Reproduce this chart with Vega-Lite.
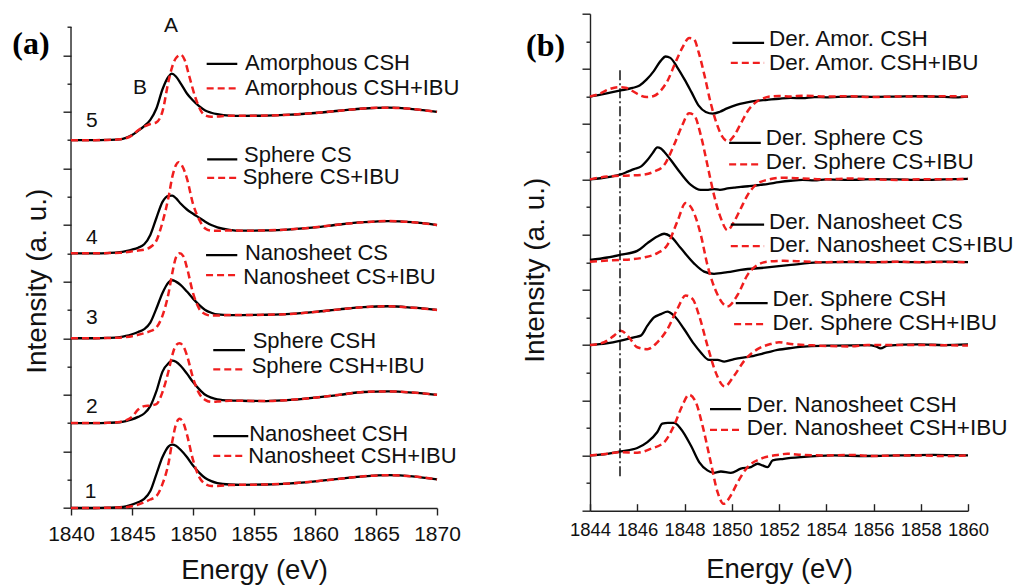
{
  "$schema": "https://vega.github.io/schema/vega-lite/v6.json",
  "background": "white",
  "padding": {"left": 12, "top": 12.7, "right": 0, "bottom": 0},
  "spacing": 60,
  "config": {
    "view": {"stroke": null},
    "font": "Liberation Sans",
    "axis": {"grid": false, "domainColor": "#222", "tickColor": "#222", "domainWidth": 1.4, "tickWidth": 1.4, "labelColor": "#111", "titleColor": "#111", "titleFontWeight": "normal", "labelFont": "Liberation Sans", "titleFont": "Liberation Sans"},
    "text": {"font": "Liberation Sans", "color": "#111"}
  },
  "datasets": {
    "specA": [
      {"s":1,"k":"b","e":1840,"y":0},{"s":1,"k":"b","e":1842,"y":0},{"s":1,"k":"b","e":1843,"y":0.01},{"s":1,"k":"b","e":1844,"y":0.03},{"s":1,"k":"b","e":1844.5,"y":0.06},{"s":1,"k":"b","e":1845,"y":0.12},{"s":1,"k":"b","e":1845.5,"y":0.2},{"s":1,"k":"b","e":1846,"y":0.32},{"s":1,"k":"b","e":1846.5,"y":0.6},{"s":1,"k":"b","e":1847,"y":1.2},{"s":1,"k":"b","e":1847.5,"y":1.8},{"s":1,"k":"b","e":1848,"y":2.18},{"s":1,"k":"b","e":1848.3,"y":2.24},{"s":1,"k":"b","e":1848.6,"y":2.2},{"s":1,"k":"b","e":1849,"y":2.05},{"s":1,"k":"b","e":1849.5,"y":1.8},{"s":1,"k":"b","e":1850,"y":1.5},{"s":1,"k":"b","e":1850.5,"y":1.25},{"s":1,"k":"b","e":1851,"y":1.06},{"s":1,"k":"b","e":1851.5,"y":0.95},{"s":1,"k":"b","e":1852,"y":0.88},{"s":1,"k":"b","e":1853,"y":0.83},{"s":1,"k":"b","e":1854,"y":0.82},{"s":1,"k":"b","e":1856,"y":0.83},{"s":1,"k":"b","e":1858,"y":0.87},{"s":1,"k":"b","e":1860,"y":0.94},{"s":1,"k":"b","e":1862,"y":1.03},{"s":1,"k":"b","e":1864,"y":1.12},{"s":1,"k":"b","e":1866,"y":1.16},{"s":1,"k":"b","e":1868,"y":1.12},{"s":1,"k":"b","e":1870,"y":1.01},
      {"s":1,"k":"r","e":1840,"y":0},{"s":1,"k":"r","e":1842,"y":0},{"s":1,"k":"r","e":1843,"y":0.01},{"s":1,"k":"r","e":1844,"y":0.02},{"s":1,"k":"r","e":1844.5,"y":0.03},{"s":1,"k":"r","e":1845,"y":0.06},{"s":1,"k":"r","e":1845.5,"y":0.12},{"s":1,"k":"r","e":1846,"y":0.2},{"s":1,"k":"r","e":1846.5,"y":0.3},{"s":1,"k":"r","e":1847,"y":0.42},{"s":1,"k":"r","e":1847.5,"y":0.85},{"s":1,"k":"r","e":1848,"y":1.6},{"s":1,"k":"r","e":1848.3,"y":2.35},{"s":1,"k":"r","e":1848.6,"y":2.95},{"s":1,"k":"r","e":1848.9,"y":3.15},{"s":1,"k":"r","e":1849.2,"y":3.02},{"s":1,"k":"r","e":1849.5,"y":2.6},{"s":1,"k":"r","e":1850,"y":1.7},{"s":1,"k":"r","e":1850.5,"y":1.1},{"s":1,"k":"r","e":1851,"y":0.85},{"s":1,"k":"r","e":1851.5,"y":0.78},{"s":1,"k":"r","e":1852,"y":0.78},{"s":1,"k":"r","e":1853,"y":0.81},{"s":1,"k":"r","e":1854,"y":0.82},{"s":1,"k":"r","e":1856,"y":0.83},{"s":1,"k":"r","e":1858,"y":0.87},{"s":1,"k":"r","e":1860,"y":0.94},{"s":1,"k":"r","e":1862,"y":1.03},{"s":1,"k":"r","e":1864,"y":1.12},{"s":1,"k":"r","e":1866,"y":1.16},{"s":1,"k":"r","e":1868,"y":1.12},{"s":1,"k":"r","e":1870,"y":1.01},
      {"s":2,"k":"b","e":1840,"y":3},{"s":2,"k":"b","e":1842,"y":3},{"s":2,"k":"b","e":1843,"y":3.01},{"s":2,"k":"b","e":1844,"y":3.03},{"s":2,"k":"b","e":1844.5,"y":3.07},{"s":2,"k":"b","e":1845,"y":3.13},{"s":2,"k":"b","e":1845.5,"y":3.22},{"s":2,"k":"b","e":1846,"y":3.34},{"s":2,"k":"b","e":1846.5,"y":3.6},{"s":2,"k":"b","e":1847,"y":4.13},{"s":2,"k":"b","e":1847.5,"y":4.82},{"s":2,"k":"b","e":1848,"y":5.12},{"s":2,"k":"b","e":1848.3,"y":5.21},{"s":2,"k":"b","e":1848.6,"y":5.17},{"s":2,"k":"b","e":1849,"y":5.02},{"s":2,"k":"b","e":1849.5,"y":4.75},{"s":2,"k":"b","e":1850,"y":4.45},{"s":2,"k":"b","e":1850.5,"y":4.2},{"s":2,"k":"b","e":1851,"y":4.0},{"s":2,"k":"b","e":1851.5,"y":3.9},{"s":2,"k":"b","e":1852,"y":3.84},{"s":2,"k":"b","e":1853,"y":3.8},{"s":2,"k":"b","e":1854,"y":3.79},{"s":2,"k":"b","e":1856,"y":3.78},{"s":2,"k":"b","e":1858,"y":3.82},{"s":2,"k":"b","e":1860,"y":3.9},{"s":2,"k":"b","e":1862,"y":4.0},{"s":2,"k":"b","e":1864,"y":4.1},{"s":2,"k":"b","e":1866,"y":4.12},{"s":2,"k":"b","e":1868,"y":4.08},{"s":2,"k":"b","e":1870,"y":4.0},
      {"s":2,"k":"r","e":1840,"y":3},{"s":2,"k":"r","e":1842,"y":3},{"s":2,"k":"r","e":1843,"y":3.01},{"s":2,"k":"r","e":1844,"y":3.04},{"s":2,"k":"r","e":1844.5,"y":3.1},{"s":2,"k":"r","e":1845,"y":3.22},{"s":2,"k":"r","e":1845.5,"y":3.48},{"s":2,"k":"r","e":1846,"y":3.6},{"s":2,"k":"r","e":1846.5,"y":3.62},{"s":2,"k":"r","e":1847,"y":3.67},{"s":2,"k":"r","e":1847.5,"y":4.1},{"s":2,"k":"r","e":1848,"y":4.85},{"s":2,"k":"r","e":1848.3,"y":5.4},{"s":2,"k":"r","e":1848.6,"y":5.75},{"s":2,"k":"r","e":1848.9,"y":5.82},{"s":2,"k":"r","e":1849.2,"y":5.72},{"s":2,"k":"r","e":1849.5,"y":5.4},{"s":2,"k":"r","e":1850,"y":4.6},{"s":2,"k":"r","e":1850.5,"y":4.05},{"s":2,"k":"r","e":1851,"y":3.82},{"s":2,"k":"r","e":1851.5,"y":3.75},{"s":2,"k":"r","e":1852,"y":3.76},{"s":2,"k":"r","e":1853,"y":3.79},{"s":2,"k":"r","e":1854,"y":3.79},{"s":2,"k":"r","e":1856,"y":3.78},{"s":2,"k":"r","e":1858,"y":3.82},{"s":2,"k":"r","e":1860,"y":3.9},{"s":2,"k":"r","e":1862,"y":4.0},{"s":2,"k":"r","e":1864,"y":4.1},{"s":2,"k":"r","e":1866,"y":4.12},{"s":2,"k":"r","e":1868,"y":4.08},{"s":2,"k":"r","e":1870,"y":4.0},
      {"s":3,"k":"b","e":1840,"y":6},{"s":3,"k":"b","e":1842,"y":6},{"s":3,"k":"b","e":1843,"y":6.01},{"s":3,"k":"b","e":1844,"y":6.04},{"s":3,"k":"b","e":1844.5,"y":6.08},{"s":3,"k":"b","e":1845,"y":6.14},{"s":3,"k":"b","e":1845.5,"y":6.22},{"s":3,"k":"b","e":1846,"y":6.32},{"s":3,"k":"b","e":1846.5,"y":6.55},{"s":3,"k":"b","e":1847,"y":7.05},{"s":3,"k":"b","e":1847.5,"y":7.6},{"s":3,"k":"b","e":1848,"y":7.98},{"s":3,"k":"b","e":1848.3,"y":8.05},{"s":3,"k":"b","e":1848.6,"y":8.0},{"s":3,"k":"b","e":1849,"y":7.88},{"s":3,"k":"b","e":1849.5,"y":7.65},{"s":3,"k":"b","e":1850,"y":7.4},{"s":3,"k":"b","e":1850.5,"y":7.18},{"s":3,"k":"b","e":1851,"y":7.0},{"s":3,"k":"b","e":1851.5,"y":6.9},{"s":3,"k":"b","e":1852,"y":6.84},{"s":3,"k":"b","e":1853,"y":6.82},{"s":3,"k":"b","e":1854,"y":6.82},{"s":3,"k":"b","e":1856,"y":6.83},{"s":3,"k":"b","e":1858,"y":6.86},{"s":3,"k":"b","e":1860,"y":6.93},{"s":3,"k":"b","e":1862,"y":7.02},{"s":3,"k":"b","e":1864,"y":7.1},{"s":3,"k":"b","e":1866,"y":7.13},{"s":3,"k":"b","e":1868,"y":7.08},{"s":3,"k":"b","e":1870,"y":7.0},
      {"s":3,"k":"r","e":1840,"y":6},{"s":3,"k":"r","e":1842,"y":6},{"s":3,"k":"r","e":1843,"y":6.01},{"s":3,"k":"r","e":1844,"y":6.02},{"s":3,"k":"r","e":1844.5,"y":6.04},{"s":3,"k":"r","e":1845,"y":6.07},{"s":3,"k":"r","e":1845.5,"y":6.12},{"s":3,"k":"r","e":1846,"y":6.18},{"s":3,"k":"r","e":1846.5,"y":6.25},{"s":3,"k":"r","e":1847,"y":6.38},{"s":3,"k":"r","e":1847.5,"y":6.8},{"s":3,"k":"r","e":1848,"y":7.6},{"s":3,"k":"r","e":1848.3,"y":8.3},{"s":3,"k":"r","e":1848.6,"y":8.85},{"s":3,"k":"r","e":1848.9,"y":9.0},{"s":3,"k":"r","e":1849.2,"y":8.9},{"s":3,"k":"r","e":1849.5,"y":8.5},{"s":3,"k":"r","e":1850,"y":7.6},{"s":3,"k":"r","e":1850.5,"y":7.05},{"s":3,"k":"r","e":1851,"y":6.85},{"s":3,"k":"r","e":1851.5,"y":6.8},{"s":3,"k":"r","e":1852,"y":6.8},{"s":3,"k":"r","e":1853,"y":6.82},{"s":3,"k":"r","e":1854,"y":6.82},{"s":3,"k":"r","e":1856,"y":6.83},{"s":3,"k":"r","e":1858,"y":6.86},{"s":3,"k":"r","e":1860,"y":6.93},{"s":3,"k":"r","e":1862,"y":7.02},{"s":3,"k":"r","e":1864,"y":7.1},{"s":3,"k":"r","e":1866,"y":7.13},{"s":3,"k":"r","e":1868,"y":7.08},{"s":3,"k":"r","e":1870,"y":7.0},
      {"s":4,"k":"b","e":1840,"y":9},{"s":4,"k":"b","e":1842,"y":9},{"s":4,"k":"b","e":1843,"y":9.01},{"s":4,"k":"b","e":1844,"y":9.04},{"s":4,"k":"b","e":1844.5,"y":9.08},{"s":4,"k":"b","e":1845,"y":9.13},{"s":4,"k":"b","e":1845.5,"y":9.2},{"s":4,"k":"b","e":1846,"y":9.32},{"s":4,"k":"b","e":1846.5,"y":9.65},{"s":4,"k":"b","e":1847,"y":10.25},{"s":4,"k":"b","e":1847.5,"y":10.82},{"s":4,"k":"b","e":1848,"y":11.03},{"s":4,"k":"b","e":1848.3,"y":11.04},{"s":4,"k":"b","e":1848.6,"y":10.95},{"s":4,"k":"b","e":1849,"y":10.75},{"s":4,"k":"b","e":1849.5,"y":10.55},{"s":4,"k":"b","e":1850,"y":10.4},{"s":4,"k":"b","e":1850.5,"y":10.26},{"s":4,"k":"b","e":1851,"y":10.12},{"s":4,"k":"b","e":1851.5,"y":10.0},{"s":4,"k":"b","e":1852,"y":9.92},{"s":4,"k":"b","e":1853,"y":9.83},{"s":4,"k":"b","e":1854,"y":9.8},{"s":4,"k":"b","e":1856,"y":9.81},{"s":4,"k":"b","e":1858,"y":9.85},{"s":4,"k":"b","e":1860,"y":9.92},{"s":4,"k":"b","e":1862,"y":10.02},{"s":4,"k":"b","e":1864,"y":10.1},{"s":4,"k":"b","e":1866,"y":10.14},{"s":4,"k":"b","e":1868,"y":10.1},{"s":4,"k":"b","e":1870,"y":10.0},
      {"s":4,"k":"r","e":1840,"y":9},{"s":4,"k":"r","e":1842,"y":9},{"s":4,"k":"r","e":1843,"y":9.01},{"s":4,"k":"r","e":1844,"y":9.02},{"s":4,"k":"r","e":1844.5,"y":9.04},{"s":4,"k":"r","e":1845,"y":9.07},{"s":4,"k":"r","e":1845.5,"y":9.1},{"s":4,"k":"r","e":1846,"y":9.13},{"s":4,"k":"r","e":1846.5,"y":9.22},{"s":4,"k":"r","e":1847,"y":9.45},{"s":4,"k":"r","e":1847.5,"y":10.1},{"s":4,"k":"r","e":1848,"y":11.0},{"s":4,"k":"r","e":1848.3,"y":11.7},{"s":4,"k":"r","e":1848.6,"y":12.12},{"s":4,"k":"r","e":1848.8,"y":12.22},{"s":4,"k":"r","e":1849.1,"y":12.1},{"s":4,"k":"r","e":1849.5,"y":11.65},{"s":4,"k":"r","e":1850,"y":10.75},{"s":4,"k":"r","e":1850.5,"y":10.2},{"s":4,"k":"r","e":1851,"y":9.88},{"s":4,"k":"r","e":1851.5,"y":9.8},{"s":4,"k":"r","e":1852,"y":9.8},{"s":4,"k":"r","e":1853,"y":9.81},{"s":4,"k":"r","e":1854,"y":9.8},{"s":4,"k":"r","e":1856,"y":9.81},{"s":4,"k":"r","e":1858,"y":9.85},{"s":4,"k":"r","e":1860,"y":9.92},{"s":4,"k":"r","e":1862,"y":10.02},{"s":4,"k":"r","e":1864,"y":10.1},{"s":4,"k":"r","e":1866,"y":10.14},{"s":4,"k":"r","e":1868,"y":10.1},{"s":4,"k":"r","e":1870,"y":10.0},
      {"s":5,"k":"b","e":1840,"y":13},{"s":5,"k":"b","e":1842,"y":13},{"s":5,"k":"b","e":1843,"y":13.01},{"s":5,"k":"b","e":1844,"y":13.03},{"s":5,"k":"b","e":1844.5,"y":13.08},{"s":5,"k":"b","e":1845,"y":13.18},{"s":5,"k":"b","e":1845.5,"y":13.33},{"s":5,"k":"b","e":1846,"y":13.5},{"s":5,"k":"b","e":1846.5,"y":13.72},{"s":5,"k":"b","e":1847,"y":14.12},{"s":5,"k":"b","e":1847.5,"y":14.8},{"s":5,"k":"b","e":1848,"y":15.25},{"s":5,"k":"b","e":1848.25,"y":15.35},{"s":5,"k":"b","e":1848.6,"y":15.25},{"s":5,"k":"b","e":1849,"y":15.0},{"s":5,"k":"b","e":1849.5,"y":14.65},{"s":5,"k":"b","e":1850,"y":14.4},{"s":5,"k":"b","e":1850.5,"y":14.2},{"s":5,"k":"b","e":1851,"y":14.05},{"s":5,"k":"b","e":1851.5,"y":13.97},{"s":5,"k":"b","e":1852,"y":13.92},{"s":5,"k":"b","e":1853,"y":13.87},{"s":5,"k":"b","e":1854,"y":13.86},{"s":5,"k":"b","e":1856,"y":13.87},{"s":5,"k":"b","e":1858,"y":13.9},{"s":5,"k":"b","e":1860,"y":13.96},{"s":5,"k":"b","e":1862,"y":14.04},{"s":5,"k":"b","e":1864,"y":14.12},{"s":5,"k":"b","e":1866,"y":14.15},{"s":5,"k":"b","e":1868,"y":14.1},{"s":5,"k":"b","e":1870,"y":14.0},
      {"s":5,"k":"r","e":1840,"y":13},{"s":5,"k":"r","e":1842,"y":13},{"s":5,"k":"r","e":1843,"y":13.01},{"s":5,"k":"r","e":1844,"y":13.03},{"s":5,"k":"r","e":1844.5,"y":13.07},{"s":5,"k":"r","e":1845,"y":13.17},{"s":5,"k":"r","e":1845.5,"y":13.35},{"s":5,"k":"r","e":1846,"y":13.48},{"s":5,"k":"r","e":1846.5,"y":13.57},{"s":5,"k":"r","e":1847,"y":13.63},{"s":5,"k":"r","e":1847.5,"y":14.02},{"s":5,"k":"r","e":1848,"y":15.1},{"s":5,"k":"r","e":1848.3,"y":15.6},{"s":5,"k":"r","e":1848.6,"y":15.9},{"s":5,"k":"r","e":1849,"y":16.02},{"s":5,"k":"r","e":1849.3,"y":15.85},{"s":5,"k":"r","e":1849.7,"y":15.25},{"s":5,"k":"r","e":1850.2,"y":14.5},{"s":5,"k":"r","e":1850.7,"y":14.0},{"s":5,"k":"r","e":1851.1,"y":13.86},{"s":5,"k":"r","e":1851.5,"y":13.83},{"s":5,"k":"r","e":1852,"y":13.84},{"s":5,"k":"r","e":1853,"y":13.86},{"s":5,"k":"r","e":1854,"y":13.86},{"s":5,"k":"r","e":1856,"y":13.87},{"s":5,"k":"r","e":1858,"y":13.9},{"s":5,"k":"r","e":1860,"y":13.96},{"s":5,"k":"r","e":1862,"y":14.04},{"s":5,"k":"r","e":1864,"y":14.12},{"s":5,"k":"r","e":1866,"y":14.15},{"s":5,"k":"r","e":1868,"y":14.1},{"s":5,"k":"r","e":1870,"y":14.0}
    ],
    "specB": [
      {"s":5,"k":"b","e":1844,"y":15},{"s":5,"k":"b","e":1844.5,"y":15.08},{"s":5,"k":"b","e":1845,"y":15.17},{"s":5,"k":"b","e":1845.3,"y":15.22},{"s":5,"k":"b","e":1845.8,"y":15.31},{"s":5,"k":"b","e":1846.1,"y":15.4},{"s":5,"k":"b","e":1846.4,"y":15.62},{"s":5,"k":"b","e":1846.7,"y":15.92},{"s":5,"k":"b","e":1847,"y":16.3},{"s":5,"k":"b","e":1847.2,"y":16.45},{"s":5,"k":"b","e":1847.4,"y":16.4},{"s":5,"k":"b","e":1847.7,"y":16.05},{"s":5,"k":"b","e":1848,"y":15.62},{"s":5,"k":"b","e":1848.3,"y":15.15},{"s":5,"k":"b","e":1848.6,"y":14.67},{"s":5,"k":"b","e":1848.9,"y":14.44},{"s":5,"k":"b","e":1849.2,"y":14.38},{"s":5,"k":"b","e":1849.5,"y":14.45},{"s":5,"k":"b","e":1849.8,"y":14.57},{"s":5,"k":"b","e":1850.2,"y":14.7},{"s":5,"k":"b","e":1850.6,"y":14.78},{"s":5,"k":"b","e":1851,"y":14.84},{"s":5,"k":"b","e":1851.5,"y":14.88},{"s":5,"k":"b","e":1852,"y":14.92},{"s":5,"k":"b","e":1852.5,"y":14.95},{"s":5,"k":"b","e":1853,"y":14.94},{"s":5,"k":"b","e":1853.5,"y":14.98},{"s":5,"k":"b","e":1854,"y":14.97},{"s":5,"k":"b","e":1855,"y":15.0},{"s":5,"k":"b","e":1856,"y":14.99},{"s":5,"k":"b","e":1857,"y":15.0},{"s":5,"k":"b","e":1858,"y":15.01},{"s":5,"k":"b","e":1859,"y":14.99},{"s":5,"k":"b","e":1859.5,"y":14.97},{"s":5,"k":"b","e":1860,"y":15.0},
      {"s":5,"k":"r","e":1844,"y":15},{"s":5,"k":"r","e":1844.4,"y":15.1},{"s":5,"k":"r","e":1844.8,"y":15.26},{"s":5,"k":"r","e":1845.2,"y":15.34},{"s":5,"k":"r","e":1845.5,"y":15.32},{"s":5,"k":"r","e":1845.8,"y":15.2},{"s":5,"k":"r","e":1846.1,"y":15.05},{"s":5,"k":"r","e":1846.4,"y":14.98},{"s":5,"k":"r","e":1846.7,"y":15.02},{"s":5,"k":"r","e":1847,"y":15.22},{"s":5,"k":"r","e":1847.3,"y":15.6},{"s":5,"k":"r","e":1847.6,"y":16.2},{"s":5,"k":"r","e":1847.9,"y":16.75},{"s":5,"k":"r","e":1848.2,"y":17.12},{"s":5,"k":"r","e":1848.4,"y":17.08},{"s":5,"k":"r","e":1848.6,"y":16.6},{"s":5,"k":"r","e":1848.85,"y":15.75},{"s":5,"k":"r","e":1849.1,"y":14.8},{"s":5,"k":"r","e":1849.35,"y":14.05},{"s":5,"k":"r","e":1849.6,"y":13.55},{"s":5,"k":"r","e":1849.85,"y":13.38},{"s":5,"k":"r","e":1850.1,"y":13.58},{"s":5,"k":"r","e":1850.4,"y":14.05},{"s":5,"k":"r","e":1850.7,"y":14.5},{"s":5,"k":"r","e":1851,"y":14.78},{"s":5,"k":"r","e":1851.3,"y":14.92},{"s":5,"k":"r","e":1851.6,"y":15.0},{"s":5,"k":"r","e":1852,"y":15.02},{"s":5,"k":"r","e":1852.5,"y":15.0},{"s":5,"k":"r","e":1853,"y":15.03},{"s":5,"k":"r","e":1854,"y":15.0},{"s":5,"k":"r","e":1855,"y":15.01},{"s":5,"k":"r","e":1856,"y":14.98},{"s":5,"k":"r","e":1857,"y":15.0},{"s":5,"k":"r","e":1858,"y":15.0},{"s":5,"k":"r","e":1859,"y":15.01},{"s":5,"k":"r","e":1860,"y":15.0},
      {"s":4,"k":"b","e":1844,"y":12},{"s":4,"k":"b","e":1844.45,"y":12.04},{"s":4,"k":"b","e":1844.9,"y":12.1},{"s":4,"k":"b","e":1845.3,"y":12.18},{"s":4,"k":"b","e":1845.6,"y":12.28},{"s":4,"k":"b","e":1845.86,"y":12.37},{"s":4,"k":"b","e":1846.15,"y":12.46},{"s":4,"k":"b","e":1846.43,"y":12.7},{"s":4,"k":"b","e":1846.65,"y":12.95},{"s":4,"k":"b","e":1846.85,"y":13.16},{"s":4,"k":"b","e":1847,"y":13.12},{"s":4,"k":"b","e":1847.14,"y":13.0},{"s":4,"k":"b","e":1847.42,"y":12.7},{"s":4,"k":"b","e":1847.84,"y":12.22},{"s":4,"k":"b","e":1848.27,"y":11.8},{"s":4,"k":"b","e":1848.69,"y":11.62},{"s":4,"k":"b","e":1849,"y":11.62},{"s":4,"k":"b","e":1849.25,"y":11.65},{"s":4,"k":"b","e":1849.5,"y":11.62},{"s":4,"k":"b","e":1849.82,"y":11.67},{"s":4,"k":"b","e":1850.1,"y":11.7},{"s":4,"k":"b","e":1850.38,"y":11.73},{"s":4,"k":"b","e":1850.7,"y":11.75},{"s":4,"k":"b","e":1850.95,"y":11.77},{"s":4,"k":"b","e":1851.2,"y":11.8},{"s":4,"k":"b","e":1851.5,"y":11.83},{"s":4,"k":"b","e":1852,"y":11.9},{"s":4,"k":"b","e":1852.5,"y":11.95},{"s":4,"k":"b","e":1853,"y":11.98},{"s":4,"k":"b","e":1853.5,"y":11.96},{"s":4,"k":"b","e":1854,"y":12.0},{"s":4,"k":"b","e":1855,"y":11.98},{"s":4,"k":"b","e":1856,"y":12.01},{"s":4,"k":"b","e":1857,"y":12.0},{"s":4,"k":"b","e":1858,"y":11.98},{"s":4,"k":"b","e":1859,"y":12.0},{"s":4,"k":"b","e":1860,"y":12.02},
      {"s":4,"k":"r","e":1844,"y":12},{"s":4,"k":"r","e":1844.73,"y":12.1},{"s":4,"k":"r","e":1845.3,"y":12.13},{"s":4,"k":"r","e":1845.7,"y":12.14},{"s":4,"k":"r","e":1846.15,"y":12.16},{"s":4,"k":"r","e":1846.71,"y":12.28},{"s":4,"k":"r","e":1847.14,"y":12.52},{"s":4,"k":"r","e":1847.56,"y":13.25},{"s":4,"k":"r","e":1847.91,"y":13.97},{"s":4,"k":"r","e":1848.19,"y":14.39},{"s":4,"k":"r","e":1848.4,"y":14.33},{"s":4,"k":"r","e":1848.69,"y":13.6},{"s":4,"k":"r","e":1848.97,"y":12.52},{"s":4,"k":"r","e":1849.25,"y":11.43},{"s":4,"k":"r","e":1849.54,"y":10.59},{"s":4,"k":"r","e":1849.82,"y":10.16},{"s":4,"k":"r","e":1850.1,"y":10.47},{"s":4,"k":"r","e":1850.38,"y":10.94},{"s":4,"k":"r","e":1850.67,"y":11.43},{"s":4,"k":"r","e":1851.09,"y":11.85},{"s":4,"k":"r","e":1851.5,"y":11.98},{"s":4,"k":"r","e":1852.2,"y":12.06},{"s":4,"k":"r","e":1853,"y":12.03},{"s":4,"k":"r","e":1854,"y":12.0},{"s":4,"k":"r","e":1855,"y":12.03},{"s":4,"k":"r","e":1856,"y":12.0},{"s":4,"k":"r","e":1857,"y":11.98},{"s":4,"k":"r","e":1858,"y":12.0},{"s":4,"k":"r","e":1859,"y":12.0},{"s":4,"k":"r","e":1860,"y":12.02},
      {"s":3,"k":"b","e":1844,"y":9.08},{"s":3,"k":"b","e":1844.73,"y":9.17},{"s":3,"k":"b","e":1845.3,"y":9.27},{"s":3,"k":"b","e":1846,"y":9.41},{"s":3,"k":"b","e":1846.43,"y":9.69},{"s":3,"k":"b","e":1846.85,"y":9.93},{"s":3,"k":"b","e":1847.14,"y":10.03},{"s":3,"k":"b","e":1847.42,"y":9.93},{"s":3,"k":"b","e":1847.84,"y":9.51},{"s":3,"k":"b","e":1848.4,"y":8.96},{"s":3,"k":"b","e":1848.83,"y":8.66},{"s":3,"k":"b","e":1849.25,"y":8.58},{"s":3,"k":"b","e":1849.82,"y":8.64},{"s":3,"k":"b","e":1850.38,"y":8.72},{"s":3,"k":"b","e":1851.5,"y":8.81},{"s":3,"k":"b","e":1852.5,"y":8.9},{"s":3,"k":"b","e":1853.63,"y":8.99},{"s":3,"k":"b","e":1854.5,"y":9.0},{"s":3,"k":"b","e":1856,"y":9.0},{"s":3,"k":"b","e":1857,"y":9.01},{"s":3,"k":"b","e":1858,"y":9.0},{"s":3,"k":"b","e":1859,"y":9.02},{"s":3,"k":"b","e":1860,"y":9.0},
      {"s":3,"k":"r","e":1844,"y":9.02},{"s":3,"k":"r","e":1844.73,"y":9.06},{"s":3,"k":"r","e":1845.3,"y":9.08},{"s":3,"k":"r","e":1846.29,"y":9.17},{"s":3,"k":"r","e":1846.85,"y":9.33},{"s":3,"k":"r","e":1847.28,"y":9.63},{"s":3,"k":"r","e":1847.7,"y":10.48},{"s":3,"k":"r","e":1848.05,"y":11.14},{"s":3,"k":"r","e":1848.34,"y":10.9},{"s":3,"k":"r","e":1848.69,"y":9.99},{"s":3,"k":"r","e":1848.97,"y":8.9},{"s":3,"k":"r","e":1849.4,"y":7.82},{"s":3,"k":"r","e":1849.82,"y":7.4},{"s":3,"k":"r","e":1850.25,"y":7.82},{"s":3,"k":"r","e":1850.67,"y":8.54},{"s":3,"k":"r","e":1851.09,"y":8.9},{"s":3,"k":"r","e":1851.5,"y":9.02},{"s":3,"k":"r","e":1852.2,"y":9.05},{"s":3,"k":"r","e":1853,"y":9.03},{"s":3,"k":"r","e":1854,"y":9.0},{"s":3,"k":"r","e":1855,"y":9.02},{"s":3,"k":"r","e":1856,"y":9.0},{"s":3,"k":"r","e":1857,"y":9.02},{"s":3,"k":"r","e":1858,"y":9.0},{"s":3,"k":"r","e":1859,"y":9.01},{"s":3,"k":"r","e":1860,"y":9.0},
      {"s":2,"k":"b","e":1844,"y":6},{"s":2,"k":"b","e":1844.7,"y":6.06},{"s":2,"k":"b","e":1845.3,"y":6.16},{"s":2,"k":"b","e":1845.86,"y":6.28},{"s":2,"k":"b","e":1846.15,"y":6.34},{"s":2,"k":"b","e":1846.43,"y":6.7},{"s":2,"k":"b","e":1846.71,"y":7.0},{"s":2,"k":"b","e":1847,"y":7.12},{"s":2,"k":"b","e":1847.28,"y":7.21},{"s":2,"k":"b","e":1847.56,"y":7.06},{"s":2,"k":"b","e":1847.98,"y":6.58},{"s":2,"k":"b","e":1848.4,"y":6.04},{"s":2,"k":"b","e":1848.69,"y":5.73},{"s":2,"k":"b","e":1849.04,"y":5.46},{"s":2,"k":"b","e":1849.4,"y":5.46},{"s":2,"k":"b","e":1849.68,"y":5.4},{"s":2,"k":"b","e":1850.1,"y":5.49},{"s":2,"k":"b","e":1850.81,"y":5.59},{"s":2,"k":"b","e":1851.5,"y":5.73},{"s":2,"k":"b","e":1851.94,"y":5.82},{"s":2,"k":"b","e":1852.5,"y":5.89},{"s":2,"k":"b","e":1853.2,"y":5.95},{"s":2,"k":"b","e":1854.34,"y":5.98},{"s":2,"k":"b","e":1855.75,"y":6.0},{"s":2,"k":"b","e":1856.1,"y":5.95},{"s":2,"k":"b","e":1856.3,"y":5.88},{"s":2,"k":"b","e":1856.6,"y":5.98},{"s":2,"k":"b","e":1857.9,"y":6.02},{"s":2,"k":"b","e":1859,"y":6.0},{"s":2,"k":"b","e":1860,"y":6.02},
      {"s":2,"k":"r","e":1844,"y":6},{"s":2,"k":"r","e":1844.6,"y":6.1},{"s":2,"k":"r","e":1845.02,"y":6.34},{"s":2,"k":"r","e":1845.3,"y":6.52},{"s":2,"k":"r","e":1845.65,"y":6.28},{"s":2,"k":"r","e":1846,"y":5.92},{"s":2,"k":"r","e":1846.43,"y":5.85},{"s":2,"k":"r","e":1846.85,"y":6.1},{"s":2,"k":"r","e":1847.28,"y":6.58},{"s":2,"k":"r","e":1847.7,"y":7.31},{"s":2,"k":"r","e":1848.05,"y":7.79},{"s":2,"k":"r","e":1848.34,"y":7.67},{"s":2,"k":"r","e":1848.62,"y":7.06},{"s":2,"k":"r","e":1848.97,"y":5.98},{"s":2,"k":"r","e":1849.32,"y":5.01},{"s":2,"k":"r","e":1849.7,"y":4.5},{"s":2,"k":"r","e":1850.1,"y":4.89},{"s":2,"k":"r","e":1850.53,"y":5.43},{"s":2,"k":"r","e":1851.09,"y":5.85},{"s":2,"k":"r","e":1851.66,"y":6.04},{"s":2,"k":"r","e":1852,"y":6.1},{"s":2,"k":"r","e":1852.5,"y":6.04},{"s":2,"k":"r","e":1853.63,"y":5.98},{"s":2,"k":"r","e":1855,"y":5.95},{"s":2,"k":"r","e":1855.75,"y":6.0},{"s":2,"k":"r","e":1857.9,"y":6.0},{"s":2,"k":"r","e":1860,"y":5.98},
      {"s":1,"k":"b","e":1844,"y":2},{"s":1,"k":"b","e":1844.73,"y":2.06},{"s":1,"k":"b","e":1845.3,"y":2.15},{"s":1,"k":"b","e":1846,"y":2.27},{"s":1,"k":"b","e":1846.43,"y":2.48},{"s":1,"k":"b","e":1846.85,"y":2.85},{"s":1,"k":"b","e":1847.06,"y":3.15},{"s":1,"k":"b","e":1847.3,"y":3.18},{"s":1,"k":"b","e":1847.56,"y":3.18},{"s":1,"k":"b","e":1847.84,"y":2.97},{"s":1,"k":"b","e":1848.27,"y":2.36},{"s":1,"k":"b","e":1848.62,"y":1.76},{"s":1,"k":"b","e":1848.97,"y":1.46},{"s":1,"k":"b","e":1849.25,"y":1.37},{"s":1,"k":"b","e":1849.54,"y":1.42},{"s":1,"k":"b","e":1849.96,"y":1.37},{"s":1,"k":"b","e":1850.38,"y":1.52},{"s":1,"k":"b","e":1850.81,"y":1.58},{"s":1,"k":"b","e":1851.09,"y":1.7},{"s":1,"k":"b","e":1851.3,"y":1.64},{"s":1,"k":"b","e":1851.52,"y":1.58},{"s":1,"k":"b","e":1851.73,"y":1.82},{"s":1,"k":"b","e":1852.2,"y":1.88},{"s":1,"k":"b","e":1852.93,"y":1.94},{"s":1,"k":"b","e":1854.3,"y":2.0},{"s":1,"k":"b","e":1855.7,"y":1.98},{"s":1,"k":"b","e":1857.1,"y":2.0},{"s":1,"k":"b","e":1858.5,"y":2.02},{"s":1,"k":"b","e":1860,"y":2.0},
      {"s":1,"k":"r","e":1844,"y":2},{"s":1,"k":"r","e":1844.73,"y":2.06},{"s":1,"k":"r","e":1845.3,"y":2.12},{"s":1,"k":"r","e":1846,"y":2.1},{"s":1,"k":"r","e":1846.57,"y":2.24},{"s":1,"k":"r","e":1847.14,"y":2.48},{"s":1,"k":"r","e":1847.56,"y":3.09},{"s":1,"k":"r","e":1847.91,"y":3.81},{"s":1,"k":"r","e":1848.19,"y":4.2},{"s":1,"k":"r","e":1848.48,"y":3.93},{"s":1,"k":"r","e":1848.76,"y":3.09},{"s":1,"k":"r","e":1849.11,"y":1.76},{"s":1,"k":"r","e":1849.4,"y":0.67},{"s":1,"k":"r","e":1849.65,"y":0.25},{"s":1,"k":"r","e":1849.96,"y":0.55},{"s":1,"k":"r","e":1850.25,"y":1.03},{"s":1,"k":"r","e":1850.67,"y":1.58},{"s":1,"k":"r","e":1851.23,"y":1.88},{"s":1,"k":"r","e":1851.94,"y":2.02},{"s":1,"k":"r","e":1852.36,"y":2.06},{"s":1,"k":"r","e":1853,"y":2.02},{"s":1,"k":"r","e":1854,"y":2.0},{"s":1,"k":"r","e":1855,"y":2.02},{"s":1,"k":"r","e":1856,"y":1.98},{"s":1,"k":"r","e":1857,"y":2.0},{"s":1,"k":"r","e":1858,"y":2.0},{"s":1,"k":"r","e":1859,"y":1.98},{"s":1,"k":"r","e":1860,"y":2.0}
    ],
    "legA": [
      {"lab":"Amorphous CSH","k":"b","e":1851.12,"e2":1853.63,"xt":1854.26,"yl":15.7,"yt":15.71},
      {"lab":"Amorphous CSH+IBU","k":"r","e":1851.12,"e2":1853.63,"xt":1854.26,"yl":14.83,"yt":14.85},
      {"lab":"Sphere CS","k":"b","e":1851.16,"e2":1853.63,"xt":1854.18,"yl":12.32,"yt":12.47},
      {"lab":"Sphere CS+IBU","k":"r","e":1851.16,"e2":1853.63,"xt":1854.07,"yl":11.67,"yt":11.7},
      {"lab":"Nanosheet CS","k":"b","e":1851.07,"e2":1853.63,"xt":1854.26,"yl":8.94,"yt":9.0},
      {"lab":"Nanosheet CS+IBU","k":"r","e":1851.07,"e2":1853.63,"xt":1854.12,"yl":8.23,"yt":8.16},
      {"lab":"Sphere CSH","k":"b","e":1851.66,"e2":1854.26,"xt":1854.89,"yl":5.58,"yt":5.9},
      {"lab":"Sphere CSH+IBU","k":"r","e":1851.66,"e2":1854.26,"xt":1854.81,"yl":4.9,"yt":5.02},
      {"lab":"Nanosheet CSH","k":"b","e":1851.66,"e2":1854.53,"xt":1854.61,"yl":2.54,"yt":2.6},
      {"lab":"Nanosheet CSH+IBU","k":"r","e":1851.66,"e2":1854.26,"xt":1854.53,"yl":1.84,"yt":1.85}
    ],
    "legB": [
      {"lab":"Der. Amor. CSH","k":"b","e":1850.03,"e2":1851.37,"xt":1851.58,"yl":16.94,"yt":17.1},
      {"lab":"Der. Amor. CSH+IBU","k":"r","e":1849.96,"e2":1851.37,"xt":1851.58,"yl":16.22,"yt":16.22},
      {"lab":"Der. Sphere CS","k":"b","e":1849.89,"e2":1851.23,"xt":1851.44,"yl":13.32,"yt":13.48},
      {"lab":"Der. Sphere CS+IBU","k":"r","e":1849.89,"e2":1851.23,"xt":1851.44,"yl":12.54,"yt":12.63},
      {"lab":"Der. Nanosheet CS","k":"b","e":1849.96,"e2":1851.37,"xt":1851.58,"yl":10.36,"yt":10.46},
      {"lab":"Der. Nanosheet CS+IBU","k":"r","e":1849.96,"e2":1851.37,"xt":1851.58,"yl":9.58,"yt":9.61},
      {"lab":"Der. Sphere CSH","k":"b","e":1850.17,"e2":1851.52,"xt":1851.73,"yl":7.52,"yt":7.68},
      {"lab":"Der. Sphere CSH+IBU","k":"r","e":1850.1,"e2":1851.44,"xt":1851.73,"yl":6.76,"yt":6.8},
      {"lab":"Der. Nanosheet CSH","k":"b","e":1849.08,"e2":1850.39,"xt":1850.64,"yl":3.68,"yt":3.84},
      {"lab":"Der. Nanosheet CSH+IBU","k":"r","e":1849.08,"e2":1850.39,"xt":1850.64,"yl":2.93,"yt":2.99}
    ]
  },
  "hconcat": [
    {
      "width": 366,
      "height": 494.3,
      "encoding": {
        "x": {"field": "e", "type": "quantitative", "scale": {"domain": [1840, 1870], "nice": false, "zero": false},
          "axis": {"values": [1840, 1845, 1850, 1855, 1860, 1865, 1870], "format": "d", "title": "Energy (eV)", "tickSize": 7, "labelFontSize": 21, "labelPadding": 9, "titleFontSize": 27.5, "titlePadding": 12, "labelFlush": false}},
        "y": {"field": "y", "type": "quantitative", "scale": {"domain": [0, 17.47], "nice": false, "zero": false},
          "axis": {"values": [0,1,2,3,4,5,6,7,8,9,10,11,12,13,14,15,16,17], "labels": false, "domain": false, "tickSize": {"condition": {"test": "datum.value % 2 === 0", "value": 8}, "value": 4}, "title": "Intensity (a. u.)", "titleFontSize": 28, "titlePadding": 11, "titleY": 267}}
      },
      "layer": [
        {"data": {"values": [{"e": 1840, "y": 0, "y2": 17}]}, "mark": {"type": "rule", "color": "#222", "strokeWidth": 1.4}, "encoding": {"y2": {"field": "y2"}}},
        {"data": {"name": "specA"}, "transform": [{"filter": "datum.k === 'b'"}], "mark": {"type": "line", "color": "#000000", "strokeWidth": 2.3, "interpolate": "monotone"}, "encoding": {"detail": {"field": "s"}, "order": {"field": "e"}}},
        {"data": {"name": "specA"}, "transform": [{"filter": "datum.k === 'r'"}], "mark": {"type": "line", "color": "#f01e1e", "strokeWidth": 2.5, "strokeDash": [7, 4], "interpolate": "monotone"}, "encoding": {"detail": {"field": "s"}, "order": {"field": "e"}}},
        {"data": {"values": [{"t":"5","e":1841.7,"y":13.67},{"t":"4","e":1841.7,"y":9.55},{"t":"3","e":1841.7,"y":6.72},{"t":"2","e":1841.7,"y":3.57},{"t":"1","e":1841.6,"y":0.58},{"t":"A","e":1848.2,"y":17.03},{"t":"B","e":1845.66,"y":14.83}]}, "mark": {"type": "text", "fontSize": 21, "align": "center", "baseline": "middle"}, "encoding": {"text": {"field": "t"}}},
        {"data": {"values": [{"t":"(a)","e":1836.72,"y":16.4}]}, "mark": {"type": "text", "font": "Liberation Serif", "fontWeight": "bold", "fontSize": 32, "align": "center", "baseline": "middle", "color": "#000"}, "encoding": {"text": {"field": "t"}}},
        {"data": {"name": "legA"}, "mark": {"type": "rule", "strokeWidth": 2.3}, "encoding": {"x2": {"field": "e2"}, "y": {"field": "yl", "type": "quantitative", "scale": {"domain": [0, 17.47], "nice": false, "zero": false}}, "color": {"field": "k", "type": "nominal", "scale": {"domain": ["b", "r"], "range": ["#000000", "#f01e1e"]}, "legend": null}, "strokeDash": {"field": "k", "type": "nominal", "scale": {"domain": ["b", "r"], "range": [[1, 0], [7, 4]]}, "legend": null}}},
        {"data": {"name": "legA"}, "mark": {"type": "text", "fontSize": 22, "align": "left", "baseline": "middle"}, "encoding": {"x": {"field": "xt", "type": "quantitative", "scale": {"domain": [1840, 1870], "nice": false, "zero": false}}, "y": {"field": "yt", "type": "quantitative", "scale": {"domain": [0, 17.47], "nice": false, "zero": false}}, "text": {"field": "lab"}}}
      ]
    },
    {
      "width": 378,
      "height": 497,
      "encoding": {
        "x": {"field": "e", "type": "quantitative", "scale": {"domain": [1844, 1860], "nice": false, "zero": false},
          "axis": {"values": [1844, 1846, 1848, 1850, 1852, 1854, 1856, 1858, 1860], "format": "d", "title": "Energy (eV)", "tickSize": -7, "labelFontSize": 18.5, "labelPadding": 17, "titleFontSize": 27.5, "titlePadding": 16, "labelFlush": false}},
        "y": {"field": "y", "type": "quantitative", "scale": {"domain": [0, 18], "nice": false, "zero": false},
          "axis": {"values": [0,1,2,3,4,5,6,7,8,9,10,11,12,13,14,15,16,17,18], "labels": false, "tickSize": {"condition": {"test": "datum.value % 2 === 0", "value": 8}, "value": 4}, "title": "Intensity (a. u.)", "titleFontSize": 28, "titlePadding": 32, "titleY": 256}}
      },
      "layer": [
        {"data": {"name": "specB"}, "transform": [{"filter": "datum.k === 'b'"}], "mark": {"type": "line", "color": "#000000", "strokeWidth": 2.3, "interpolate": "monotone"}, "encoding": {"detail": {"field": "s"}, "order": {"field": "e"}}},
        {"data": {"name": "specB"}, "transform": [{"filter": "datum.k === 'r'"}], "mark": {"type": "line", "color": "#f01e1e", "strokeWidth": 2.5, "strokeDash": [7, 4], "interpolate": "monotone"}, "encoding": {"detail": {"field": "s"}, "order": {"field": "e"}}},
        {"data": {"values": [{"e":1845.27,"y":1.25,"y2":16.0}]}, "mark": {"type": "rule", "color": "#000", "strokeWidth": 1.4, "strokeDash": [10, 3, 2, 3]}, "encoding": {"y2": {"field": "y2"}}},
        {"data": {"values": [{"t":"(b)","e":1842.12,"y":16.82}]}, "mark": {"type": "text", "font": "Liberation Serif", "fontWeight": "bold", "fontSize": 32, "align": "center", "baseline": "middle", "color": "#000"}, "encoding": {"text": {"field": "t"}}},
        {"data": {"name": "legB"}, "mark": {"type": "rule", "strokeWidth": 2.3}, "encoding": {"x2": {"field": "e2"}, "y": {"field": "yl", "type": "quantitative", "scale": {"domain": [0, 18], "nice": false, "zero": false}}, "color": {"field": "k", "type": "nominal", "scale": {"domain": ["b", "r"], "range": ["#000000", "#f01e1e"]}, "legend": null}, "strokeDash": {"field": "k", "type": "nominal", "scale": {"domain": ["b", "r"], "range": [[1, 0], [7, 4]]}, "legend": null}}},
        {"data": {"name": "legB"}, "mark": {"type": "text", "fontSize": 22.5, "align": "left", "baseline": "middle"}, "encoding": {"x": {"field": "xt", "type": "quantitative", "scale": {"domain": [1844, 1860], "nice": false, "zero": false}}, "y": {"field": "yt", "type": "quantitative", "scale": {"domain": [0, 18], "nice": false, "zero": false}}, "text": {"field": "lab"}}}
      ]
    }
  ]
}
